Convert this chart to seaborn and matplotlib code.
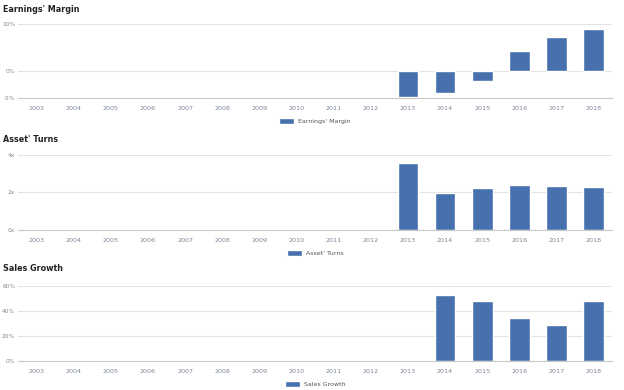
import matplotlib
matplotlib.use('Agg')
import matplotlib.pyplot as plt
import numpy as np
import pandas as pd
import seaborn as sns

# chart data
years = [str(y) for y in range(2003, 2019)]
earnings_margin = [np.nan] * 10 + [-5.6, -4.7, -2.3, 4.2, 7.2, 8.9]
asset_turns = [np.nan] * 10 + [3.55, 1.96, 2.25, 2.39, 2.35, 2.28]
sales_growth = [np.nan] * 11 + [53, 48, 34, 28.5, 48]

margin_ticks = [-5.8, 0, 10]
margin_labels = ["-5%", "0%", "10%"]
turns_ticks = [0, 2, 4]
turns_labels = ["0x", "2x", "4x"]
growth_ticks = [0, 20, 40, 60]
growth_labels = ["0%", "20%", "40%", "60%"]

titles = ["Earnings' Margin", "Asset' Turns", "Sales Growth"]

BAR = "#4670AE"
GRID = "#e3e3e3"
TXT = "#8a8a8a"

sns.set_style("white")
plt.rcParams['font.family'] = ['DejaVu Sans']

fig = plt.figure(figsize=(6.24, 3.9), dpi=100)

panels = [
    (earnings_margin, margin_ticks, margin_labels, (-5.8, 10), 0.749, 0.190, 0.988),
    (asset_turns, turns_ticks, turns_labels, (0, 4), 0.410, 0.193, 0.655),
    (sales_growth, growth_ticks, growth_labels, (0, 60), 0.074, 0.193, 0.322),
]

for (vals, ticks, labels, lim, bottom, height, title_y), title in zip(panels, titles):
    ax = fig.add_axes([0.029, bottom, 0.952, height])
    df = pd.DataFrame({"year": years, "value": vals})
    sns.barplot(data=df, x="year", y="value", order=years, color=BAR,
                width=0.56, saturation=1, label=title, ax=ax)
    ax.set_ylim(*lim)
    ax.set_xlim(-0.5, len(years) - 0.5)
    ax.set_yticks(ticks)
    ax.set_yticklabels(labels, fontsize=4.2, color=TXT)
    ax.yaxis.grid(True, color=GRID, linewidth=0.8)
    ax.set_axisbelow(True)
    ax.set_xlabel("")
    ax.set_ylabel("")
    ax.tick_params(axis='y', length=0, pad=2)
    ax.tick_params(axis='x', which='major', length=0, labelsize=4.6,
                   labelcolor="#7d8799", pad=6)
    ax.set_xticks(np.arange(len(years) + 1) - 0.5, minor=True)
    ax.tick_params(axis='x', which='minor', length=4, color="#c8c8c8", width=0.6)
    for s in ["top", "right", "left"]:
        ax.spines[s].set_visible(False)
    ax.spines["bottom"].set_color("#c8c8c8")
    ax.spines["bottom"].set_linewidth(0.8)
    ax.legend(loc="upper center", bbox_to_anchor=(0.5, -0.19), frameon=False,
              fontsize=4.5, handlelength=2.4, handleheight=1.1,
              handletextpad=0.6, labelcolor="#555555")
    fig.text(0.005, title_y, title, fontsize=5.8, fontweight="bold",
             color="#222222", va="top", ha="left")

plt.savefig("out.png", dpi=100)
